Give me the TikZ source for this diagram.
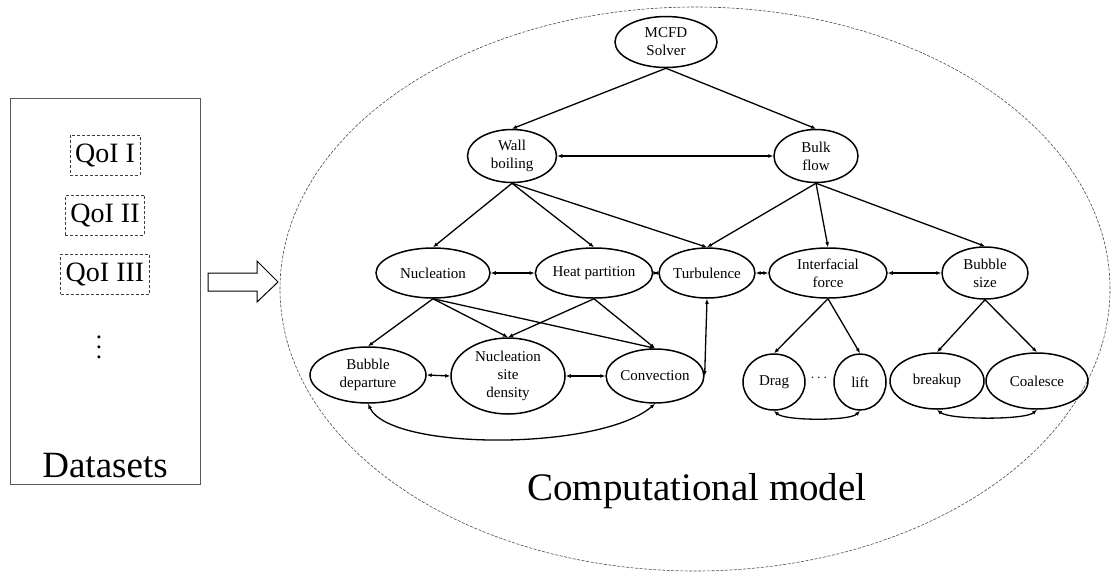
\documentclass[tikz,border=0pt]{standalone}
\usepackage{fontspec}
\setmainfont{Liberation Serif}
\usetikzlibrary{
  calc,shapes.geometric,positioning,
  arrows.meta
}

\tikzset{
  blob/.style={draw,ellipse,line width=1.5pt,inner sep=0pt,align=center,
    font=\fontsize{15}{18}\selectfont},
  dep/.style={-{Latex[length=5pt,width=4pt]},line width=1.3pt},
  mutual/.style={{Latex[length=5pt,width=4pt]}-{Latex[length=5pt,width=4pt]},line width=1.3pt},
  qoi/.style={draw=black!75,dash pattern=on 3pt off 2pt,line width=0.8pt,
    inner xsep=5pt,inner ysep=0pt,minimum height=40pt,
    font=\fontsize{28}{30}\selectfont}
}

\begin{document}
\begin{tikzpicture}[x=1pt,y=-1pt]
\useasboundingbox (0,0) rectangle (1111,574);

% datasets
\node[draw=black!65,line width=0.8pt,minimum width=190pt,minimum height=386pt,inner sep=0pt] (data) at (105,291) {};
\node[qoi] (q1) at (105,155) {QoI I};
\node[qoi] (q2) at (105,215) {QoI II};
\node[qoi] (q3) at (105,274) {QoI III};
\node (more) at (99,340) {\scalebox{2.5}{$\vdots$}};
\node[anchor=base,font=\fontsize{37}{40}\selectfont] (datalabel) at (105,477) {Datasets};

% hollow arrow
\draw[line width=1pt] (208,273) -- (257,273) -- (257,261) -- (278,282)
  -- (257,302) -- (257,291) -- (208,291) -- cycle;

% model
\node[draw=black!70,ellipse,dash pattern=on 3pt off 1.5pt,line width=0.6pt,
  minimum width=830pt,minimum height=564pt] (model) at (695,289) {};
\node[anchor=base,font=\fontsize{39}{42}\selectfont] (modellabel) at (697,500) {Computational model};

\node[blob,minimum width=102pt,minimum height=51pt] (solver) at (666,42) {MCFD\\Solver};
\node[blob,minimum width=89pt,minimum height=53pt] (wall) at (512,156) {Wall\\boiling};
\node[blob,minimum width=84pt,minimum height=53pt] (bulk) at (816,156) {Bulk\\flow};
\node[blob,minimum width=114pt,minimum height=50pt] (nucl) at (433,273) {Nucleation};
\node[blob,minimum width=108pt,minimum height=50pt] (heat) at (594,273) {Heat partition};
\node[blob,minimum width=92pt,minimum height=50pt] (turb) at (707,273) {Turbulence};
\node[blob,minimum width=118pt,minimum height=50pt] (inter) at (828,273) {Interfacial\\force};
\node[blob,minimum width=86pt,minimum height=52pt] (bsize) at (985,273) {Bubble\\size};
\node[blob,minimum width=116pt,minimum height=56pt] (bdep) at (368,375) {Bubble\\departure};
\node[blob,minimum width=114pt,minimum height=76pt] (nsd) at (508,376) {Nucleation\\site\\density};
\node[blob,minimum width=82pt,minimum height=54pt] (conv) at (655,376) {Convection};
\node[blob,minimum width=62pt,minimum height=56pt] (drag) at (774,382) {Drag};
\node[blob,minimum width=52pt,minimum height=56pt] (lift) at (860,382) {lift};
\node[font=\fontsize{15}{18}\selectfont] (etc) at (819,378) {$\cdots$};
\node[blob,minimum width=94pt,minimum height=56pt] (breakup) at (937,381) {breakup};
\node[blob,minimum width=102pt,minimum height=56pt] (coal) at (1037,381) {Coalesce};

% hierarchy
\draw[dep] (solver.south) -- (wall.north);
\draw[dep] (solver.south) -- (bulk.north);
\foreach \t in {nucl,heat,turb}
  \draw[dep] (wall.south) -- (\t.north);
\foreach \t in {turb,inter,bsize}
  \draw[dep] (bulk.south) -- (\t.north);
\foreach \t in {bdep,nsd,conv}
  \draw[dep] (nucl.south) -- (\t.north);
\foreach \t in {nsd,conv}
  \draw[dep] (heat.south) -- (\t.north);
\foreach \t in {drag,lift}
  \draw[dep] (inter.south) -- (\t.north);
\foreach \t in {breakup,coal}
  \draw[dep] (bsize.south) -- (\t.north);

% couplings
\draw[mutual] (wall.east) -- (bulk.west);
\draw[mutual] (nucl.east) -- (heat.west);
\draw[mutual] (heat.east) -- (turb.west);
\draw[mutual] (turb.east) -- (inter.west);
\draw[mutual] (inter.east) -- (bsize.west);
\draw[mutual] (bdep.east) -- (nsd.west);
\draw[mutual] (nsd.east) -- (conv.west);
\draw[mutual] (conv.east) -- (turb.south);
\draw[mutual] (bdep.south) .. controls (390,451) and (600,451) .. (conv.south);
\draw[mutual] (drag.south) .. controls (785,421) and (850,421) .. (lift.south);
\draw[mutual] (breakup.south) .. controls (950,420) and (1025,420) .. (coal.south);
\end{tikzpicture}
\end{document}
